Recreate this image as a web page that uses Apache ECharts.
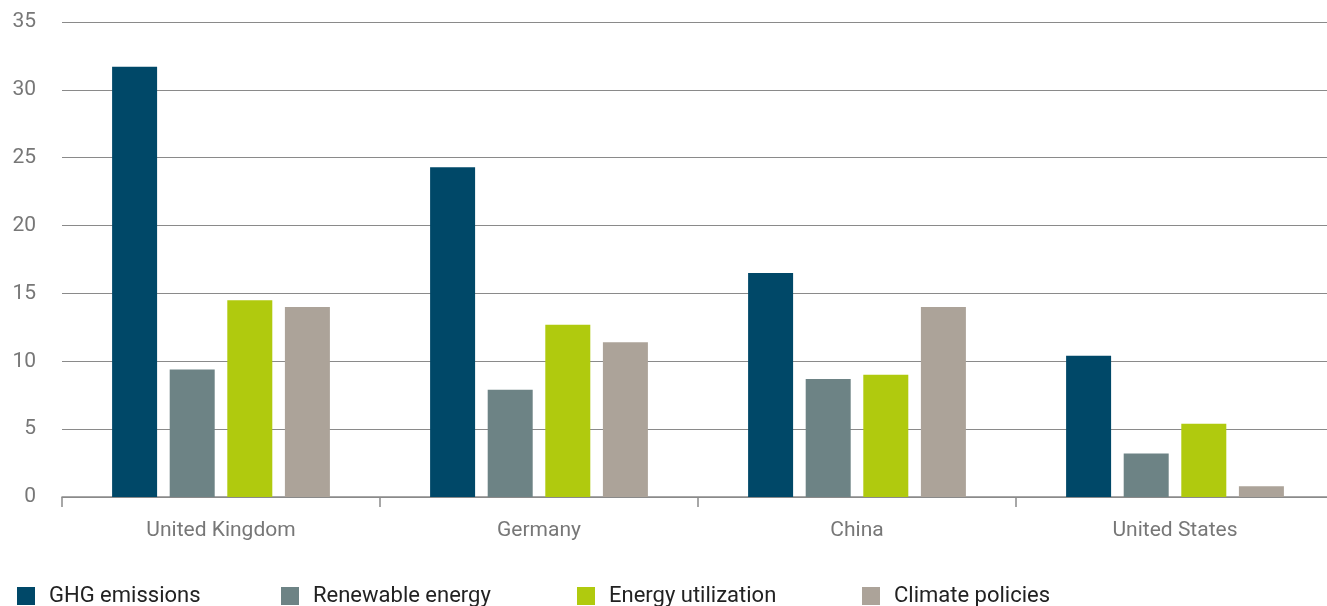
<!DOCTYPE html>
<html>
<head>
<meta charset="utf-8">
<script src="https://cdn.jsdelivr.net/npm/echarts@6/dist/echarts.min.js"></script>
<style>
  html, body { margin: 0; padding: 0; background: #fff; overflow: hidden; }
  #chart { width: 1340px; height: 606px; }
</style>
</head>
<body>
<div id="chart"></div>
<script>
// Countries along the x axis
const countries = ['United Kingdom', 'Germany', 'China', 'United States'];

// Series values per country
const ghgEmissions = [31.7, 24.3, 16.5, 10.4];
const renewableEnergy = [9.4, 7.9, 8.7, 3.2];
const energyUtilization = [14.5, 12.7, 9.0, 5.4];
const climatePolicies = [14.0, 11.4, 14.0, 0.8];

const seriesNames = ['GHG emissions', 'Renewable energy', 'Energy utilization', 'Climate policies'];
const seriesValues = [ghgEmissions, renewableEnergy, energyUtilization, climatePolicies];
const seriesColors = ['#004868', '#6d8385', '#b0ca0e', '#aca399'];

// Y axis range
const yMin = 0;
const yMax = 35;
const yStep = 5;

const chart = echarts.init(document.getElementById('chart'), null, { renderer: 'canvas' });

const legendLefts = [12, 276, 572, 857];
const legends = seriesNames.map((name, i) => ({
  data: [name],
  left: legendLefts[i],
  top: 580,
  icon: 'rect',
  itemWidth: 18,
  itemHeight: 18,
  itemGap: 0,
  selectedMode: false,
  textStyle: {
    color: '#222',
    fontSize: 22,
    fontFamily: 'Roboto, sans-serif',
    padding: [0, 0, 0, 9]
  }
}));

chart.setOption({
  animation: false,
  color: seriesColors,
  textStyle: { fontFamily: 'Roboto, sans-serif' },
  grid: { left: 62, top: 22, width: 1272, height: 475, containLabel: false },
  legend: legends,
  xAxis: {
    type: 'category',
    data: countries,
    axisLine: { show: true, lineStyle: { color: '#8a8a8a', width: 1.5 } },
    axisTick: { show: true, length: 10, lineStyle: { color: '#8a8a8a', width: 1.5 } },
    axisLabel: { color: '#777', fontSize: 21, margin: 23 }
  },
  yAxis: {
    type: 'value',
    min: yMin,
    max: yMax,
    interval: yStep,
    axisLine: { show: false },
    axisTick: { show: false },
    axisLabel: { color: '#777', fontSize: 21, margin: 26 },
    splitLine: { lineStyle: { color: '#8a8a8a', width: 1.2 } }
  },
  series: seriesNames.map((name, i) => ({
    name: name,
    type: 'bar',
    data: seriesValues[i],
    barWidth: 45,
    barGap: '28%',
    itemStyle: { color: seriesColors[i] }
  }))
});
</script>
</body>
</html>
